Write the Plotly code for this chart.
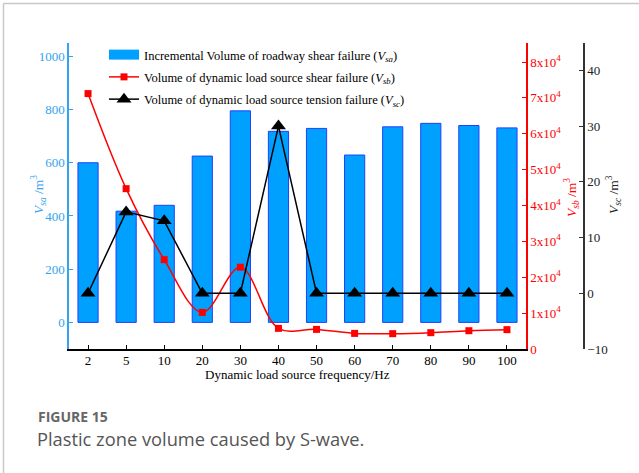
import plotly.graph_objects as go

# Dynamic load source frequency (Hz) categories
freq = ["2", "5", "10", "20", "30", "40", "50", "60", "70", "80", "90", "100"]
# Incremental volume of roadway shear failure, V_sa (m^3)
v_sa = [600, 418, 440, 625, 795, 718, 729, 629, 735, 748, 740, 731]
# Volume of dynamic load source shear failure, V_sb (m^3)
v_sb = [71200, 44700, 24900, 10200, 22800, 5750, 5470, 4350, 4270, 4550, 5100, 5390]
# Volume of dynamic load source tension failure, V_sc (m^3)
v_sc = [0, 14.6, 13, 0, 0, 30, 0, 0, 0, 0, 0, 0]

# Tick labels for the V_sb axis
sb_tickvals = [0, 10000, 20000, 30000, 40000, 50000, 60000, 70000, 80000]
sb_ticktext = ["0"] + [f"{k}x10<sup>4</sup>" for k in range(1, 9)]

W, H = 639, 473
ML, MR, MT, MB = 69, 49, 43, 124
PW, PH = W - ML - MR, H - MT - MB


def px(x):
    return (x - ML) / PW


def py(y):
    return (H - MB - y) / PH


SERIF = "Liberation Serif, Times New Roman, serif"
BLUE_AX = "#35A3F0"
BAR_FILL = "#00A0FF"
RED = "#FF0000"
DARK = "#222222"

fig = go.Figure()

fig.add_trace(go.Bar(
    x=freq, y=v_sa, width=0.53,
    name="Incremental Volume of roadway shear failure (<i>V</i><sub><i>sa</i></sub>)",
    marker=dict(color=BAR_FILL, line=dict(color="#2040FF", width=1)),
    showlegend=False, yaxis="y",
))
# Legend key for the bars: a wide filled swatch
fig.add_trace(go.Scatter(
    x=[None], y=[None], mode="lines",
    name="Incremental Volume of roadway shear failure (<i>V</i><sub><i>sa</i></sub>)",
    line=dict(color=BAR_FILL, width=13),
    legendgroup="a", yaxis="y",
))
fig.add_trace(go.Scatter(
    x=freq, y=v_sb, mode="lines+markers",
    name="Volume of dynamic load source shear failure (<i>V</i><sub><i>sb</i></sub>)",
    line=dict(color=RED, width=1.5, shape="spline", smoothing=1.0),
    marker=dict(symbol="square", size=7, color=RED),
    legendgroup="b", yaxis="y2",
))
fig.add_trace(go.Scatter(
    x=freq, y=v_sc, mode="lines+markers",
    name="Volume of dynamic load source tension failure (<i>V</i><sub><i>sc</i></sub>)",
    line=dict(color="black", width=1.5),
    marker=dict(symbol="triangle-up", size=13, color="black"),
    legendgroup="c", yaxis="y3",
))

fig.update_layout(
    width=W, height=H,
    margin=dict(l=ML, r=MR, t=MT, b=MB),
    paper_bgcolor="white", plot_bgcolor="white",
    font=dict(family=SERIF, size=13, color="black"),
    showlegend=True,
    legend=dict(
        x=px(104), y=py(40), xanchor="left", yanchor="top",
        bgcolor="rgba(0,0,0,0)", font=dict(family=SERIF, size=12.5, color="black"),
        traceorder="grouped", tracegroupgap=3, itemwidth=30,
    ),
    xaxis=dict(
        domain=[0, px(526)], type="category", range=[-0.5, 11.5],
        showline=True, linecolor="black", linewidth=1.5, mirror=False,
        ticks="inside", ticklen=4, tickcolor="black", tickwidth=1,
        ticklabelstandoff=-1,
        showgrid=False, zeroline=False,
        tickfont=dict(family=SERIF, size=13, color="black"),
    ),
    yaxis=dict(
        range=[-100, 1050], tickvals=[0, 200, 400, 600, 800, 1000],
        showline=True, linecolor=BLUE_AX, linewidth=1.5,
        ticks="inside", ticklen=4, tickcolor=BLUE_AX,
        showgrid=False, zeroline=False,
        tickfont=dict(family=SERIF, size=13, color=BLUE_AX),
    ),
    yaxis2=dict(
        range=[0, 85300], overlaying="y", side="right", anchor="x",
        tickvals=sb_tickvals, ticktext=sb_ticktext,
        showline=True, linecolor=RED, linewidth=1.5,
        ticks="inside", ticklen=4, tickcolor=RED,
        showgrid=False, zeroline=False,
        tickfont=dict(family=SERIF, size=13, color=RED),
    ),
    yaxis3=dict(
        range=[-10, 44.9], overlaying="y", side="right", anchor="free",
        position=px(584), tickvals=[-10, 0, 10, 20, 30, 40],
        showline=True, linecolor="#333333", linewidth=1.5,
        ticks="inside", ticklen=4, tickcolor="#333333",
        showgrid=False, zeroline=False,
        tickfont=dict(family=SERIF, size=13, color=DARK),
    ),
)

annotations = [
    dict(x=px(38), y=py(195), text="<i>V</i><sub><i>sa</i></sub> /m<sup>3</sup>",
         textangle=-90, font=dict(family=SERIF, size=13.5, color=BLUE_AX)),
    dict(x=px(571), y=py(198), text="<i>V</i><sub><i>sb</i></sub> /m<sup>3</sup>",
         textangle=-90, font=dict(family=SERIF, size=13.5, color=RED)),
    dict(x=px(613), y=py(195), text="<i>V</i><sub><i>sc</i></sub> /m<sup>3</sup>",
         textangle=-90, font=dict(family=SERIF, size=13.5, color=DARK)),
    dict(x=px(297.5), y=py(374), text="Dynamic load source frequency/Hz",
         font=dict(family=SERIF, size=13, color="black")),
    dict(x=px(36), y=py(416.5), xanchor="left", text="<b>FIGURE 15</b>",
         font=dict(family="Open Sans", size=14, color="#666666")),
    dict(x=px(35), y=py(438.5), xanchor="left", text="Plastic zone volume caused by S-wave.",
         font=dict(family="Open Sans", size=18.3, color="#555555")),
]
for a in annotations:
    a.update(xref="paper", yref="paper", showarrow=False)
    a.setdefault("xanchor", "center")
    a.setdefault("yanchor", "middle")
fig.update_layout(annotations=annotations)

# Page frame: thin grey rules along the top and left edges
fig.update_layout(shapes=[
    dict(type="line", xref="paper", yref="paper", x0=px(3.5), x1=px(W + 5),
         y0=py(3.5), y1=py(3.5), line=dict(color="#C8C8C8", width=1.5)),
    dict(type="line", xref="paper", yref="paper", x0=px(3.5), x1=px(3.5),
         y0=py(3.5), y1=py(H + 5), line=dict(color="#C8C8C8", width=1.5)),
])

fig.write_html("out.html")
